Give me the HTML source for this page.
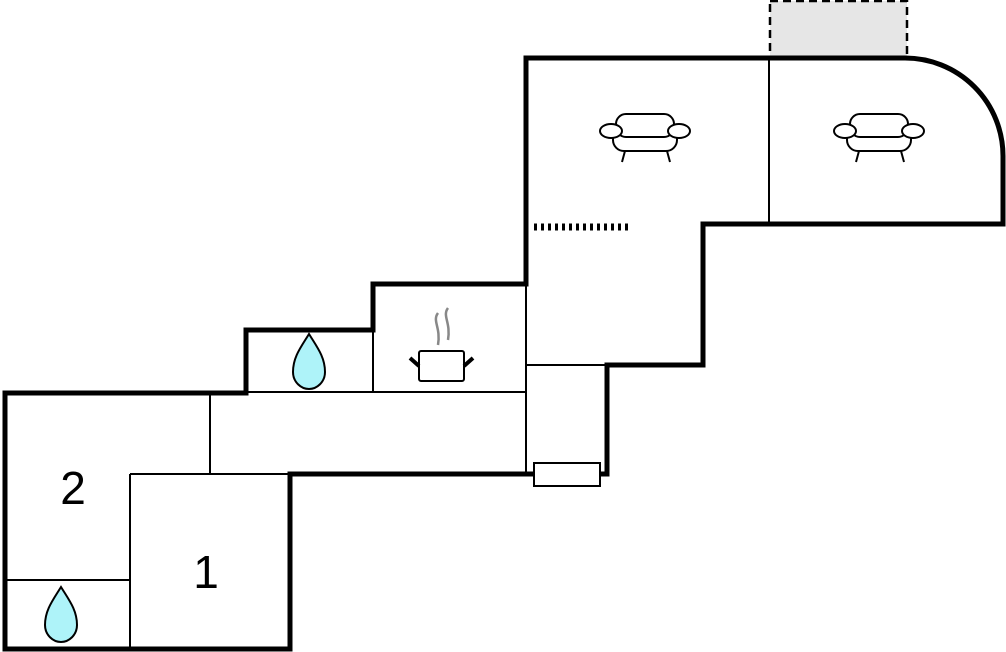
<!DOCTYPE html><html><head><style>body{margin:0;background:#fff}svg{display:block}</style></head><body>
<svg width="1006" height="652" viewBox="0 0 1006 652" xmlns="http://www.w3.org/2000/svg">
<defs>
<g id="sofa" fill="#fff" stroke="#000" stroke-width="2">
<path d="M-20,18 L-23,29 M22,18 L25,29"/>
<rect x="-32" y="-6" width="64" height="24" rx="11"/>
<rect x="-29" y="-19" width="58" height="23" rx="10"/>
<ellipse cx="-34" cy="-2" rx="11" ry="7"/>
<ellipse cx="34" cy="-2" rx="11" ry="7"/>
</g>
<path id="drop" d="M0,-28 C8,-15 16,-5 16,10 C16,20 8,27 0,27 C-8,27 -16,20 -16,10 C-16,-5 -8,-15 0,-28 Z" fill="#aef3f9" stroke="#000" stroke-width="2"/>
</defs>
<rect x="770" y="1" width="137" height="57" fill="#e6e6e6" stroke="#000" stroke-width="2.5" stroke-dasharray="8,5"/>
<g stroke="#000" stroke-width="2" fill="none">
<path d="M769,58V224 M246,392H526 M373,330V392 M526,284V474 M526,365H607 M210,393V474 M130,474H290 M130,474V649 M5,580H130"/>
</g>
<path d="M534,227H628" stroke="#000" stroke-width="7" stroke-dasharray="3,4"/>
<path d="M5,393H246V330H373V284H526V58H905A98,98 0 0 1 1003,156V224H703V365H607V474H290V649H5Z" fill="none" stroke="#000" stroke-width="5" stroke-linejoin="miter"/>
<rect x="534" y="463" width="66" height="23" fill="#fff" stroke="#000" stroke-width="2"/>
<use href="#sofa" x="645" y="133"/>
<use href="#sofa" x="879" y="133"/>
<use href="#drop" x="309" y="362"/>
<use href="#drop" x="61" y="615"/>
<g stroke="#000" fill="#fff" stroke-width="2">
<rect x="419" y="351" width="45" height="30" rx="2"/>
<path d="M419,366 L410,358 M464,366 L473,358" stroke-width="4"/>
</g>
<path d="M438,313 c-6,8 3,14 0,32 M448,308 c-6,8 3,14 0,32" stroke="#888" stroke-width="2.5" fill="none"/>
<text x="73" y="504" font-family="Liberation Sans, sans-serif" font-size="46" text-anchor="middle">2</text>
<text x="206" y="588" font-family="Liberation Sans, sans-serif" font-size="46" text-anchor="middle">1</text>
</svg>
</body></html>
